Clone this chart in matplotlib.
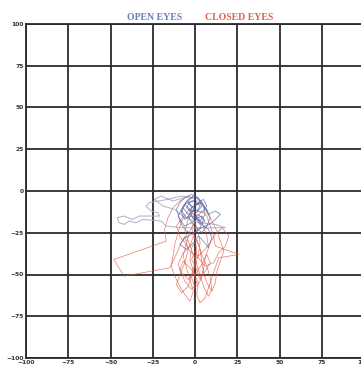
import numpy as np
import matplotlib.pyplot as plt

# stabilogram traces (centre of pressure, arbitrary units)
ticks = [-100, -75, -50, -25, 0, 25, 50, 75, 100]

open_x = [-2, -4, -1, 2, 4, 1, -3, -6, -8, -5, -1, 3, 6, 5, 2, -2, -6, -9, -11, -9,
          -6, -2, 1, 4, 7, 9, 7, 4, 0, -3, -1, 2, 5, 3, -1, -5, -8, -10, -7, -4,
          0, 3, 6, 8, 12, 15, 10, 6, 2, -2, -6, -9, -5, -1, 2, 5, 8, 10, 8, 4,
          1, -2, -5, -3, 0, 3, 1, -2, -5, -7, -4, 0, 4, 7, 5, 2, -1, -4, -2, 1,
          3, 6, 4, 0, -3, -6, -8, -6, -2, 2]
open_y = [-10, -6, -3, -5, -9, -13, -11, -8, -12, -16, -15, -18, -14, -8, -4, -2, -4, -7, -11, -17,
          -21, -19, -22, -25, -21, -16, -11, -7, -8, -12, -17, -14, -17, -22, -26, -24, -20, -15, -9, -5,
          -3, -6, -10, -14, -12, -14, -19, -21, -23, -26, -28, -32, -35, -31, -27, -30, -34, -28, -23, -20,
          -16, -13, -10, -7, -5, -9, -12, -9, -6, -10, -14, -11, -13, -9, -5, -7, -11, -15, -19, -17,
          -20, -18, -15, -17, -14, -17, -13, -8, -6, -8]

drift_x = [-2, -8, -16, -27, -29, -26, -22, -21, -33, -37, -42, -46, -45, -42, -39, -35,
           -31, -20, -17, -8, 1, 18, 12, 2, -6, -12, -19, -24, -20, -13, -7]
drift_y = [-4, -3, -5, -7, -9, -12, -13, -15, -15, -17, -15, -16, -19, -20, -18, -19,
           -17, -18, -21, -22, -22, -22, -20, -19, -16, -11, -9, -5, -3, -6, -4]

closed_x = [0, -4, -9, -13, -16, -18, -17, -48, -42, -15, -12, -9, -6, -4, -6, -9, -11, -8, -4, -2,
            0, 1, 0, -2, 1, 4, 7, 9, 11, 12, 26, 14, 12, 10, 8, 6, 3, 1, 2, -1,
            -3, -2, 1, 3, 4, 5, 7, 10, 12, 13, 15, 17, 15, 13, 10, 6, 3, -1, -5, -8,
            -10, -12, -13, -14, -12, -9, -6, -3, -1, -3, -5, -7, -5, -3, 0, 2, 3, 2, 0, -2,
            0, 3, 5, 6, 8, 7, 5, 2, -1, -4, -6, -4, -1, 1, 3, 5, 8, 10, 9, 7,
            4, 2, -1, -3, -7, -10, -8, -4, -1, 1, -2, -6, -9, -7, -3, 0, 4, 7, 9, 6,
            3, 1, -2, 0, 2, 6, 11, 14, 18, 20, 16, 12, 9, 5, 1, -3, -6, -9, -11, -7]
closed_y = [-5, -3, -6, -10, -16, -23, -30, -41, -51, -46, -40, -33, -27, -35, -43, -50, -56, -61, -57, -50,
            -43, -36, -28, -22, -16, -12, -15, -21, -27, -33, -38, -40, -46, -52, -58, -64, -67, -62, -55, -48,
            -41, -34, -29, -35, -42, -49, -55, -60, -55, -48, -42, -36, -30, -24, -18, -11, -7, -9, -13, -18,
            -25, -32, -39, -45, -51, -57, -62, -66, -60, -53, -46, -39, -31, -24, -19, -25, -31, -38, -45, -52,
            -58, -54, -47, -40, -34, -27, -21, -16, -12, -17, -24, -30, -38, -44, -50, -57, -63, -59, -52, -45,
            -38, -32, -27, -33, -37, -44, -49, -53, -49, -55, -59, -54, -47, -42, -46, -50, -44, -38, -43, -48,
            -53, -47, -41, -36, -40, -45, -43, -37, -33, -27, -22, -26, -31, -36, -40, -36, -31, -27, -21, -15]

W, H = 361, 369
fig = plt.figure(figsize=(W / 100, H / 100), dpi=100)
ax = fig.add_axes([26 / W, 11 / H, 338 / W, 334 / H])

line_c = '#2b2b2b'
for t in ticks:
    ax.axvline(t, color=line_c, lw=1.3, zorder=1)
    ax.axhline(t, color=line_c, lw=1.3, zorder=1)

ax.plot(closed_x, closed_y, color='#e0553f', lw=0.55, alpha=0.7, zorder=2)
ax.plot(drift_x, drift_y, color='#a3a9c2', lw=0.7, alpha=0.9, zorder=3)
ax.plot(open_x, open_y, color='#4a5fa8', lw=0.55, alpha=0.75, zorder=4)

ax.set_xlim(-100, 100)
ax.set_ylim(-100, 100)
ax.set_xticks(ticks)
ax.set_yticks(ticks)
ax.tick_params(length=0, labelsize=4.3, pad=1.5, colors='#333333')
for lab in ax.get_xticklabels() + ax.get_yticklabels():
    lab.set_fontweight('bold')
for s in ax.spines.values():
    s.set_color(line_c)
    s.set_linewidth(1.3)

fig.text(155 / W, 1 - 18 / H, 'OPEN EYES', color='#6b7fb8', fontsize=7,
         family='Liberation Serif', weight='bold', ha='center', va='center')
fig.text(239 / W, 1 - 18 / H, 'CLOSED EYES', color='#d9644f', fontsize=7,
         family='Liberation Serif', weight='bold', ha='center', va='center')

fig.savefig('out.png', dpi=100, facecolor='white')
